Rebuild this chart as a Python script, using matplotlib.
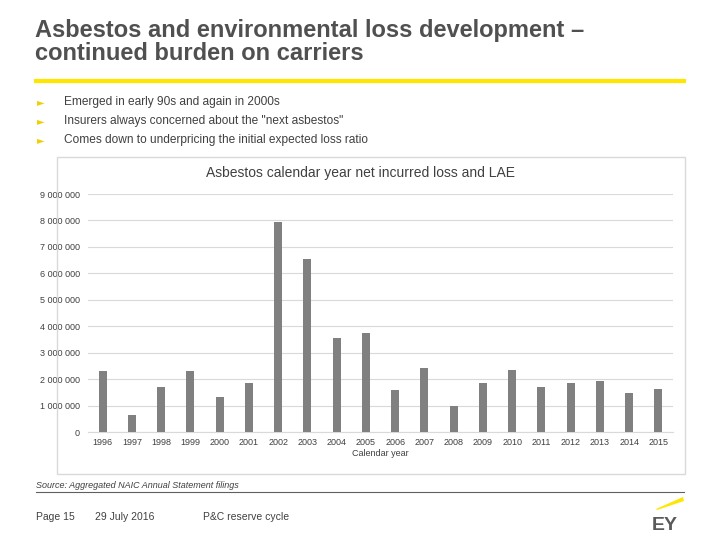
import matplotlib.pyplot as plt
from matplotlib.lines import Line2D
from matplotlib.patches import Rectangle, Polygon

plt.rcParams['font.family'] = ['Liberation Sans', 'DejaVu Sans']

years = ['1996', '1997', '1998', '1999', '2000', '2001', '2002', '2003', '2004', '2005',
         '2006', '2007', '2008', '2009', '2010', '2011', '2012', '2013', '2014', '2015']
losses = [2320000, 650000, 1710000, 2320000, 1330000, 1840000, 7960000, 6540000, 3570000, 3730000,
          1600000, 2430000, 990000, 1860000, 2360000, 1710000, 1860000, 1940000, 1480000, 1630000]
yticks = [0, 1000000, 2000000, 3000000, 4000000, 5000000, 6000000, 7000000, 8000000, 9000000]
bullets = ['Emerged in early 90s and again in 2000s',
           'Insurers always concerned about the "next asbestos"',
           'Comes down to underpricing the initial expected loss ratio']

W, H = 720, 540
fig = plt.figure(figsize=(7.2, 5.4), dpi=100)

def fx(x):
    return x / W

def fy(y):
    return 1 - y / H

dark = '#505050'
text_c = '#404040'
yellow = '#ffe600'

# ---- header ----
fig.text(fx(35), fy(37), 'Asbestos and environmental loss development \u2013',
         fontsize=17, fontweight='bold', color=dark, va='baseline')
fig.text(fx(35), fy(60), 'continued burden on carriers',
         fontsize=17, fontweight='bold', color=dark, va='baseline')
fig.add_artist(Line2D([fx(36), fx(684)], [fy(81), fy(81)], color=yellow, lw=3))

for i, b in enumerate(bullets):
    yy = fy(102 + i * 19)
    fig.text(fx(37), yy, '\u25ba', fontsize=7, color='#f0d000', va='center',
             family=['DejaVu Sans'])
    fig.text(fx(64), yy, b, fontsize=8.6, color=text_c, va='center')

# ---- chart box ----
fig.add_artist(Rectangle((fx(57), fy(474)), fx(685 - 57), (474 - 157) / H,
                         fill=False, edgecolor='#d9d9d9', lw=1))
fig.text(fx(360), fy(173), 'Asbestos calendar year net incurred loss and LAE',
         fontsize=10, color=text_c, ha='center', va='center')

ax = fig.add_axes([fx(88), fy(432), fx(673 - 88), (432 - 194) / H])
x = range(len(years))
ax.bar(x, losses, width=0.28, color='#808080', zorder=3)
ax.set_xlim(-0.5, len(years) - 0.5)
ax.set_ylim(0, 9000000)
ax.set_yticks(yticks)
ax.set_yticklabels(['{:,}'.format(v).replace(',', ' ') for v in yticks])
ax.set_xticks(list(x))
ax.set_xticklabels(years)
ax.grid(axis='y', color='#d9d9d9', lw=0.8, zorder=0)
for s in ax.spines.values():
    s.set_visible(False)
ax.spines['bottom'].set_visible(True)
ax.spines['bottom'].set_color('#d9d9d9')
ax.tick_params(length=0, labelsize=6.5, colors=text_c, pad=4)
ax.tick_params(axis='y', pad=6)
ax.set_xlabel('Calendar year', fontsize=6.5, color=text_c, labelpad=2)

# ---- source and footer ----
fig.text(fx(36), fy(486), 'Source: Aggregated NAIC Annual Statement filings',
         fontsize=6.5, style='italic', color=text_c, va='center')
fig.add_artist(Line2D([fx(36), fx(684)], [fy(492), fy(492)], color='#606060', lw=0.8))
fig.text(fx(36), fy(517), 'Page 15', fontsize=7.5, color=text_c, va='center')
fig.text(fx(95), fy(517), '29 July 2016', fontsize=7.5, color=text_c, va='center')
fig.text(fx(203), fy(517), 'P&C reserve cycle', fontsize=7.5, color=text_c, va='center')

# EY logo
fig.add_artist(Polygon([(fx(656), fy(509)), (fx(683), fy(497)), (fx(684), fy(501)), (fx(657), fy(510))],
                       closed=True, color=yellow, lw=0))
fig.text(fx(652), fy(530), 'EY', fontsize=14, fontweight='bold', color='#5a5a5a', va='baseline')

fig.savefig('out.png', dpi=100)
